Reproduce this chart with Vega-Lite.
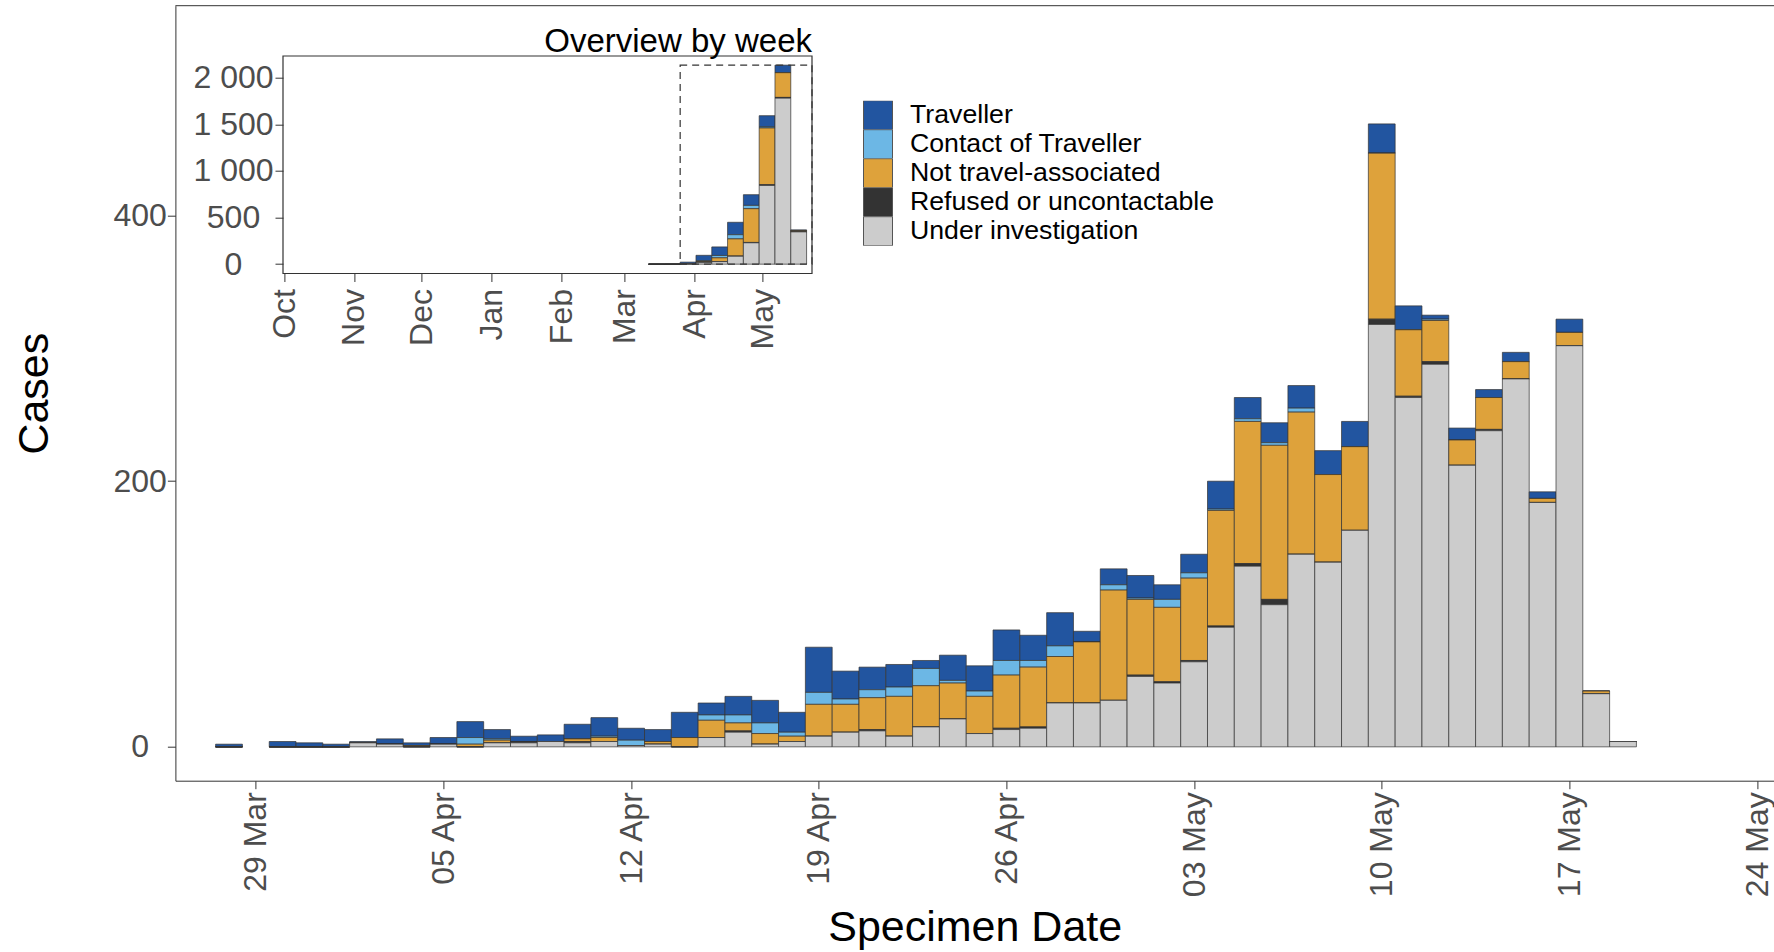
{
  "$schema": "https://vega.github.io/schema/vega-lite/v6.json",
  "width": 1598.6,
  "height": 775,
  "autosize": {"type": "none"},
  "padding": {"left": 175.4, "top": 5.7, "right": 0, "bottom": 171.3},
  "background": "white",
  "view": {"stroke": null},
  "config": {"font": "Liberation Sans", "axis": {"grid": false}},
  "datasets": {
    "cats": [
      {"category": "Traveller", "stackrank": 1},
      {"category": "Contact of Traveller", "stackrank": 2},
      {"category": "Not travel-associated", "stackrank": 3},
      {"category": "Refused or uncontactable", "stackrank": 4},
      {"category": "Under investigation", "stackrank": 5}
    ],
    "daily": [
      {"date": "2021-03-28", "Under investigation": 0, "Refused or uncontactable": 0, "Not travel-associated": 0, "Contact of Traveller": 0, "Traveller": 2},
      {"date": "2021-03-30", "Under investigation": 0, "Refused or uncontactable": 0, "Not travel-associated": 0, "Contact of Traveller": 0, "Traveller": 4},
      {"date": "2021-03-31", "Under investigation": 0, "Refused or uncontactable": 0, "Not travel-associated": 0, "Contact of Traveller": 0, "Traveller": 3},
      {"date": "2021-04-01", "Under investigation": 0, "Refused or uncontactable": 0, "Not travel-associated": 0, "Contact of Traveller": 0, "Traveller": 2},
      {"date": "2021-04-02", "Under investigation": 3, "Refused or uncontactable": 0, "Not travel-associated": 0, "Contact of Traveller": 0, "Traveller": 1},
      {"date": "2021-04-03", "Under investigation": 2, "Refused or uncontactable": 0, "Not travel-associated": 0, "Contact of Traveller": 0, "Traveller": 4},
      {"date": "2021-04-04", "Under investigation": 0, "Refused or uncontactable": 0, "Not travel-associated": 1, "Contact of Traveller": 0, "Traveller": 2},
      {"date": "2021-04-05", "Under investigation": 2, "Refused or uncontactable": 0, "Not travel-associated": 0, "Contact of Traveller": 0, "Traveller": 5},
      {"date": "2021-04-06", "Under investigation": 0, "Refused or uncontactable": 0, "Not travel-associated": 2, "Contact of Traveller": 5, "Traveller": 12},
      {"date": "2021-04-07", "Under investigation": 3, "Refused or uncontactable": 0, "Not travel-associated": 2, "Contact of Traveller": 1, "Traveller": 7},
      {"date": "2021-04-08", "Under investigation": 3, "Refused or uncontactable": 1, "Not travel-associated": 0, "Contact of Traveller": 0, "Traveller": 4},
      {"date": "2021-04-09", "Under investigation": 4, "Refused or uncontactable": 0, "Not travel-associated": 0, "Contact of Traveller": 0, "Traveller": 5},
      {"date": "2021-04-10", "Under investigation": 3, "Refused or uncontactable": 1, "Not travel-associated": 2, "Contact of Traveller": 0, "Traveller": 11},
      {"date": "2021-04-11", "Under investigation": 4, "Refused or uncontactable": 0, "Not travel-associated": 3, "Contact of Traveller": 1, "Traveller": 14},
      {"date": "2021-04-12", "Under investigation": 1, "Refused or uncontactable": 0, "Not travel-associated": 0, "Contact of Traveller": 4, "Traveller": 9},
      {"date": "2021-04-13", "Under investigation": 2, "Refused or uncontactable": 0, "Not travel-associated": 2, "Contact of Traveller": 0, "Traveller": 9},
      {"date": "2021-04-14", "Under investigation": 0, "Refused or uncontactable": 0, "Not travel-associated": 7, "Contact of Traveller": 0, "Traveller": 19},
      {"date": "2021-04-15", "Under investigation": 7, "Refused or uncontactable": 0, "Not travel-associated": 13, "Contact of Traveller": 4, "Traveller": 9},
      {"date": "2021-04-16", "Under investigation": 11, "Refused or uncontactable": 1, "Not travel-associated": 6, "Contact of Traveller": 6, "Traveller": 14},
      {"date": "2021-04-17", "Under investigation": 2, "Refused or uncontactable": 0, "Not travel-associated": 8, "Contact of Traveller": 8, "Traveller": 17},
      {"date": "2021-04-18", "Under investigation": 4, "Refused or uncontactable": 0, "Not travel-associated": 4, "Contact of Traveller": 3, "Traveller": 15},
      {"date": "2021-04-19", "Under investigation": 8, "Refused or uncontactable": 0, "Not travel-associated": 24, "Contact of Traveller": 9, "Traveller": 34},
      {"date": "2021-04-20", "Under investigation": 11, "Refused or uncontactable": 0, "Not travel-associated": 21, "Contact of Traveller": 4, "Traveller": 21},
      {"date": "2021-04-21", "Under investigation": 12, "Refused or uncontactable": 1, "Not travel-associated": 24, "Contact of Traveller": 6, "Traveller": 17},
      {"date": "2021-04-22", "Under investigation": 8, "Refused or uncontactable": 0, "Not travel-associated": 30, "Contact of Traveller": 7, "Traveller": 17},
      {"date": "2021-04-23", "Under investigation": 15, "Refused or uncontactable": 0, "Not travel-associated": 31, "Contact of Traveller": 13, "Traveller": 6},
      {"date": "2021-04-24", "Under investigation": 21, "Refused or uncontactable": 0, "Not travel-associated": 27, "Contact of Traveller": 2, "Traveller": 19},
      {"date": "2021-04-25", "Under investigation": 10, "Refused or uncontactable": 0, "Not travel-associated": 28, "Contact of Traveller": 4, "Traveller": 19},
      {"date": "2021-04-26", "Under investigation": 13, "Refused or uncontactable": 1, "Not travel-associated": 40, "Contact of Traveller": 11, "Traveller": 23},
      {"date": "2021-04-27", "Under investigation": 14, "Refused or uncontactable": 1, "Not travel-associated": 45, "Contact of Traveller": 5, "Traveller": 19},
      {"date": "2021-04-28", "Under investigation": 33, "Refused or uncontactable": 0, "Not travel-associated": 35, "Contact of Traveller": 8, "Traveller": 25},
      {"date": "2021-04-29", "Under investigation": 33, "Refused or uncontactable": 0, "Not travel-associated": 46, "Contact of Traveller": 0, "Traveller": 8},
      {"date": "2021-04-30", "Under investigation": 35, "Refused or uncontactable": 0, "Not travel-associated": 83, "Contact of Traveller": 4, "Traveller": 12},
      {"date": "2021-05-01", "Under investigation": 53, "Refused or uncontactable": 1, "Not travel-associated": 57, "Contact of Traveller": 1, "Traveller": 17},
      {"date": "2021-05-02", "Under investigation": 48, "Refused or uncontactable": 1, "Not travel-associated": 56, "Contact of Traveller": 6, "Traveller": 11},
      {"date": "2021-05-03", "Under investigation": 64, "Refused or uncontactable": 1, "Not travel-associated": 62, "Contact of Traveller": 4, "Traveller": 14},
      {"date": "2021-05-04", "Under investigation": 90, "Refused or uncontactable": 1, "Not travel-associated": 87, "Contact of Traveller": 1, "Traveller": 21},
      {"date": "2021-05-05", "Under investigation": 136, "Refused or uncontactable": 2, "Not travel-associated": 107, "Contact of Traveller": 2, "Traveller": 16},
      {"date": "2021-05-06", "Under investigation": 107, "Refused or uncontactable": 4, "Not travel-associated": 116, "Contact of Traveller": 2, "Traveller": 15},
      {"date": "2021-05-07", "Under investigation": 145, "Refused or uncontactable": 0, "Not travel-associated": 107, "Contact of Traveller": 3, "Traveller": 17},
      {"date": "2021-05-08", "Under investigation": 139, "Refused or uncontactable": 0, "Not travel-associated": 66, "Contact of Traveller": 0, "Traveller": 18},
      {"date": "2021-05-09", "Under investigation": 163, "Refused or uncontactable": 0, "Not travel-associated": 63, "Contact of Traveller": 0, "Traveller": 19},
      {"date": "2021-05-10", "Under investigation": 318, "Refused or uncontactable": 4, "Not travel-associated": 125, "Contact of Traveller": 0, "Traveller": 22},
      {"date": "2021-05-11", "Under investigation": 263, "Refused or uncontactable": 1, "Not travel-associated": 50, "Contact of Traveller": 0, "Traveller": 18},
      {"date": "2021-05-12", "Under investigation": 288, "Refused or uncontactable": 2, "Not travel-associated": 31, "Contact of Traveller": 1, "Traveller": 3},
      {"date": "2021-05-13", "Under investigation": 212, "Refused or uncontactable": 0, "Not travel-associated": 19, "Contact of Traveller": 0, "Traveller": 9},
      {"date": "2021-05-14", "Under investigation": 238, "Refused or uncontactable": 1, "Not travel-associated": 24, "Contact of Traveller": 0, "Traveller": 6},
      {"date": "2021-05-15", "Under investigation": 277, "Refused or uncontactable": 0, "Not travel-associated": 13, "Contact of Traveller": 0, "Traveller": 7},
      {"date": "2021-05-16", "Under investigation": 184, "Refused or uncontactable": 0, "Not travel-associated": 3, "Contact of Traveller": 0, "Traveller": 5},
      {"date": "2021-05-17", "Under investigation": 302, "Refused or uncontactable": 0, "Not travel-associated": 10, "Contact of Traveller": 0, "Traveller": 10},
      {"date": "2021-05-18", "Under investigation": 40, "Refused or uncontactable": 0, "Not travel-associated": 2, "Contact of Traveller": 0, "Traveller": 0},
      {"date": "2021-05-19", "Under investigation": 4, "Refused or uncontactable": 0, "Not travel-associated": 0, "Contact of Traveller": 0, "Traveller": 0}
    ],
    "weekly": [
      {"week": "2021-03-15", "Under investigation": 0, "Refused or uncontactable": 0, "Not travel-associated": 0, "Contact of Traveller": 0, "Traveller": 0},
      {"week": "2021-03-22", "Under investigation": 0, "Refused or uncontactable": 0, "Not travel-associated": 0, "Contact of Traveller": 0, "Traveller": 2},
      {"week": "2021-03-29", "Under investigation": 5, "Refused or uncontactable": 0, "Not travel-associated": 1, "Contact of Traveller": 0, "Traveller": 16},
      {"week": "2021-04-05", "Under investigation": 19, "Refused or uncontactable": 2, "Not travel-associated": 9, "Contact of Traveller": 7, "Traveller": 58},
      {"week": "2021-04-12", "Under investigation": 27, "Refused or uncontactable": 1, "Not travel-associated": 40, "Contact of Traveller": 25, "Traveller": 92},
      {"week": "2021-04-19", "Under investigation": 85, "Refused or uncontactable": 1, "Not travel-associated": 185, "Contact of Traveller": 45, "Traveller": 133},
      {"week": "2021-04-26", "Under investigation": 229, "Refused or uncontactable": 4, "Not travel-associated": 362, "Contact of Traveller": 35, "Traveller": 115},
      {"week": "2021-05-03", "Under investigation": 844, "Refused or uncontactable": 8, "Not travel-associated": 608, "Contact of Traveller": 12, "Traveller": 120},
      {"week": "2021-05-10", "Under investigation": 1780, "Refused or uncontactable": 8, "Not travel-associated": 265, "Contact of Traveller": 1, "Traveller": 80},
      {"week": "2021-05-17", "Under investigation": 346, "Refused or uncontactable": 0, "Not travel-associated": 12, "Contact of Traveller": 0, "Traveller": 10}
    ]
  },
  "layer": [
    {
      "layer": [
        {
          "data": {"name": "daily"},
          "transform": [
            {"fold": ["Traveller", "Contact of Traveller", "Not travel-associated", "Refused or uncontactable", "Under investigation"], "as": ["category", "cases"]},
            {"lookup": "category", "from": {"data": {"name": "cats"}, "key": "category", "fields": ["stackrank"]}}
          ],
          "mark": {"type": "bar", "width": 26.8, "stroke": "#333333", "strokeWidth": 1, "strokeOpacity": 0.7},
          "encoding": {
            "x": {
              "field": "date", "type": "temporal",
              "scale": {"type": "utc", "nice": false, "padding": 0,
                "domain": [{"year": 2021, "month": 3, "date": 26, "utc": true}, {"year": 2021, "month": 5, "date": 24, "hours": 15, "minutes": 10, "utc": true}]},
              "axis": {
                "orient": "bottom",
                "values": [
                  {"year": 2021, "month": 3, "date": 29, "utc": true},
                  {"year": 2021, "month": 4, "date": 5, "utc": true},
                  {"year": 2021, "month": 4, "date": 12, "utc": true},
                  {"year": 2021, "month": 4, "date": 19, "utc": true},
                  {"year": 2021, "month": 4, "date": 26, "utc": true},
                  {"year": 2021, "month": 5, "date": 3, "utc": true},
                  {"year": 2021, "month": 5, "date": 10, "utc": true},
                  {"year": 2021, "month": 5, "date": 17, "utc": true},
                  {"year": 2021, "month": 5, "date": 24, "utc": true}
                ],
                "format": "%d %b",
                "labelAngle": -90, "labelAlign": "right", "labelBaseline": "middle",
                "labelFontSize": 32, "labelColor": "#4D4D4D", "labelPadding": 3,
                "labelFlush": false, "labelOverlap": false,
                "tickColor": "#333333", "tickSize": 8, "tickWidth": 1,
                "domainColor": "#333333", "domainWidth": 1,
                "title": "Specimen Date", "titleFontSize": 43, "titleFontWeight": "normal", "titleColor": "black", "titlePadding": 10
              }
            },
            "y": {
              "field": "cases", "type": "quantitative", "stack": "zero",
              "scale": {"domain": [-25.5, 558], "nice": false, "zero": false, "padding": 0},
              "axis": {
                "orient": "left", "values": [0, 200, 400],
                "labelFontSize": 32, "labelColor": "#4D4D4D", "labelAlign": "center", "labelPadding": 27.7,
                "tickColor": "#333333", "tickSize": 8, "tickWidth": 1,
                "domainColor": "#333333", "domainWidth": 1,
                "title": "Cases", "titleFontSize": 43, "titleFontWeight": "normal", "titleColor": "black", "titlePadding": 57
              }
            },
            "order": {"field": "stackrank", "type": "quantitative", "sort": "descending"},
            "color": {
              "field": "category", "type": "nominal",
              "sort": ["Traveller", "Contact of Traveller", "Not travel-associated", "Refused or uncontactable", "Under investigation"],
              "scale": {
                "domain": ["Traveller", "Contact of Traveller", "Not travel-associated", "Refused or uncontactable", "Under investigation"],
                "range": ["#2255A0", "#6CB7E5", "#DEA23B", "#333333", "#CCCCCC"]
              },
              "legend": {
                "orient": "none", "legendX": 687.6, "legendY": 95, "title": null, "padding": 0,
                "symbolType": "square", "symbolSize": 841, "symbolStrokeColor": "#555555", "symbolStrokeWidth": 1, "symbolOpacity": 1,
                "labelFontSize": 26.7, "labelColor": "black", "labelOffset": 17, "rowPadding": 0, "clipHeight": 29, "labelLimit": 0
              }
            }
          }
        },
        {
          "data": {"values": [{}]},
          "mark": {"type": "rule", "color": "#333333", "strokeWidth": 1},
          "encoding": {"y": {"datum": 558, "type": "quantitative"}}
        }
      ]
    },
    {
      "layer": [
        {
          "data": {"name": "weekly"},
          "transform": [
            {"fold": ["Traveller", "Contact of Traveller", "Not travel-associated", "Refused or uncontactable", "Under investigation"], "as": ["category", "cases"]},
            {"lookup": "category", "from": {"data": {"name": "cats"}, "key": "category", "fields": ["stackrank"]}}
          ],
          "mark": {"type": "bar", "width": 15.8, "stroke": "#333333", "strokeWidth": 1, "strokeOpacity": 0.7},
          "encoding": {
            "x": {
              "field": "week", "type": "temporal",
              "scale": {"type": "utc", "nice": false, "padding": 0, "range": [107.6, 636.6],
                "domain": [{"year": 2020, "month": 9, "date": 30, "hours": 13, "minutes": 22, "utc": true}, {"year": 2021, "month": 5, "date": 22, "hours": 21, "minutes": 36, "utc": true}]},
              "axis": {
                "orient": "bottom", "offset": -507.2,
                "values": [
                  {"year": 2020, "month": 10, "date": 1, "utc": true},
                  {"year": 2020, "month": 11, "date": 1, "utc": true},
                  {"year": 2020, "month": 12, "date": 1, "utc": true},
                  {"year": 2021, "month": 1, "date": 1, "utc": true},
                  {"year": 2021, "month": 2, "date": 1, "utc": true},
                  {"year": 2021, "month": 3, "date": 1, "utc": true},
                  {"year": 2021, "month": 4, "date": 1, "utc": true},
                  {"year": 2021, "month": 5, "date": 1, "utc": true}
                ],
                "format": "%b",
                "labelAngle": -90, "labelAlign": "right", "labelBaseline": "middle",
                "labelFontSize": 32, "labelColor": "#4D4D4D", "labelPadding": 7,
                "labelFlush": false, "labelOverlap": false,
                "tickColor": "#333333", "tickSize": 8, "tickWidth": 1,
                "domain": false, "title": null
              }
            },
            "y": {
              "field": "cases", "type": "quantitative", "stack": "zero",
              "scale": {"domain": [-100, 2232], "range": [267.8, 50.3], "nice": false, "zero": false, "padding": 0},
              "axis": {
                "orient": "left", "offset": -107.6, "values": [0, 500, 1000, 1500, 2000],
                "labelExpr": "replace(format(datum.value, ','), ',', ' ')",
                "labelFontSize": 32, "labelColor": "#4D4D4D", "labelAlign": "center", "labelPadding": 42,
                "tickColor": "#333333", "tickSize": 8, "tickWidth": 1,
                "domain": false, "title": null
              }
            },
            "order": {"field": "stackrank", "type": "quantitative", "sort": "descending"},
            "color": {
              "field": "category", "type": "nominal",
              "sort": ["Traveller", "Contact of Traveller", "Not travel-associated", "Refused or uncontactable", "Under investigation"],
              "scale": {
                "domain": ["Traveller", "Contact of Traveller", "Not travel-associated", "Refused or uncontactable", "Under investigation"],
                "range": ["#2255A0", "#6CB7E5", "#DEA23B", "#333333", "#CCCCCC"]
              },
              "legend": {
                "orient": "none", "legendX": 687.6, "legendY": 95, "title": null, "padding": 0,
                "symbolType": "square", "symbolSize": 841, "symbolStrokeColor": "#555555", "symbolStrokeWidth": 1, "symbolOpacity": 1,
                "labelFontSize": 26.7, "labelColor": "black", "labelOffset": 17, "rowPadding": 0, "clipHeight": 29, "labelLimit": 0
              }
            }
          }
        },
        {
          "data": {"values": [{}]},
          "mark": {"type": "rect", "fill": null, "stroke": "#333333", "strokeWidth": 1.2, "strokeDash": [7, 5]},
          "encoding": {
            "x": {"datum": {"year": 2021, "month": 3, "date": 25, "hours": 12, "utc": true}, "type": "temporal"},
            "x2": {"datum": {"year": 2021, "month": 5, "date": 22, "hours": 21, "minutes": 36, "utc": true}},
            "y": {"datum": 0, "type": "quantitative"},
            "y2": {"datum": 2135}
          }
        },
        {
          "data": {"values": [{}]},
          "mark": {"type": "rect", "fill": null, "stroke": "#333333", "strokeWidth": 1.2},
          "encoding": {
            "x": {"datum": {"year": 2020, "month": 9, "date": 30, "hours": 13, "minutes": 22, "utc": true}, "type": "temporal"},
            "x2": {"datum": {"year": 2021, "month": 5, "date": 22, "hours": 21, "minutes": 36, "utc": true}},
            "y": {"datum": -100, "type": "quantitative"},
            "y2": {"datum": 2232}
          }
        },
        {
          "data": {"values": [{}]},
          "mark": {"type": "text", "text": "Overview by week", "align": "right", "baseline": "alphabetic", "fontSize": 33, "color": "black", "dy": -4},
          "encoding": {
            "x": {"datum": {"year": 2021, "month": 5, "date": 22, "hours": 21, "minutes": 36, "utc": true}, "type": "temporal"},
            "y": {"datum": 2232, "type": "quantitative"}
          }
        }
      ]
    }
  ],
  "resolve": {"scale": {"x": "independent", "y": "independent"}}
}
